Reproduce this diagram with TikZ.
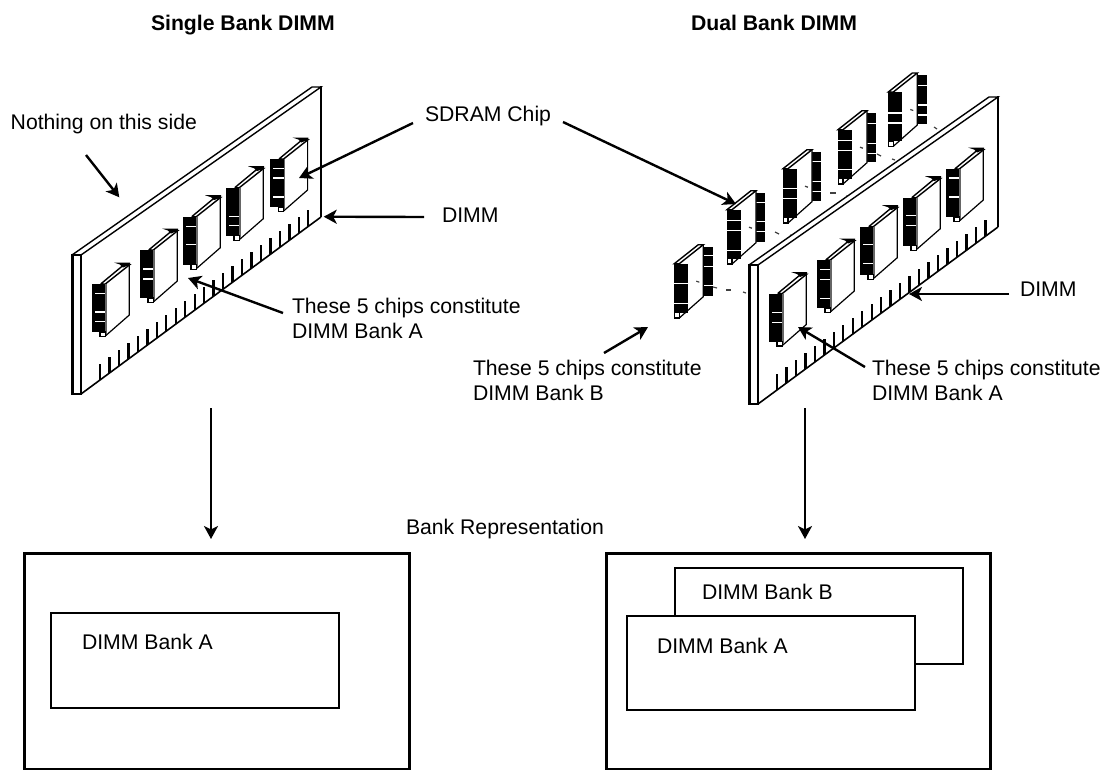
\documentclass[tikz,border=0pt]{standalone}
\usepackage{fontspec}
\setmainfont{Liberation Sans}
\usetikzlibrary{arrows.meta}
\tikzset{
  x=1pt,y=-1pt,
  lbl/.style={anchor=base west,inner sep=0pt,outer sep=0pt,font=\fontsize{21.2}{24.7}\selectfont},
  ttl/.style={lbl,font=\fontsize{21.2}{24.7}\selectfont\bfseries},
  mltl/.style={lbl,align=left},
  callout/.style={line width=2.4pt,-{Stealth[length=13pt,width=14pt,inset=3.5pt]}},
  thick box/.style={draw,fill=white,line width=2.8pt},
  thin box/.style={draw,fill=white,line width=1.9pt},
  bar/.style={line width=2.3pt},
  edge/.style={line width=1.4pt},
  speck/.style={line width=1.2pt,black!75},
}
% board with teeth
\newcommand{\boardshape}[2]{%
\begin{scope}[shift={(#1,#2)}]
  \fill[white] (72,255)--(312,87)--(321,87)--(321,217)--(81,394)--(72,394)--cycle;
  \draw[edge] (72,255)--(312,87)--(321,87)--(81,255);
  \draw[bar] (321,86)--(321,217);
  \draw[line width=1.6pt] (81,394)--(321,217);
  \draw[bar] (72.5,255) rectangle (81,394);
  \foreach \i in {0,...,22}{
    \pgfmathsetmacro{\tx}{100+\i*9.47}
    \pgfmathsetmacro{\ty}{394-(\tx-81)*0.7375}
    \draw[bar] (\tx,\ty)--(\tx,\ty-16);
  }
\end{scope}}
% front chip: origin is the top left of the black block
\newcommand{\frontchip}[3]{%
\begin{scope}[shift={(#1,#2)}]
  \fill[white] (8.7,0)--(31,-19)--(37.3,-19)--(37.3,31)--(13.3,52)--(8.7,52)--cycle;
  \draw[edge] (8.7,0)--(31,-18.5)--(37.3,-19)--(13.3,0)--(8.7,0);
  \draw[line width=1.2pt] (37.3,-19)--(37.3,31)--(13.3,52);
  \draw[line width=1.8pt,black!60] (14,0)--(14,50);
  \fill (0,0) rectangle (13.3,48);
  \fill (22,-21.5) -- (38,-21.5) -- (38,-19.5) -- (31,-16.5) -- (28,-19.5) --cycle;
  \draw[line width=1.2pt,fill=white] (8,48) rectangle (13.3,52.5);
  \foreach \d in {#3}{\draw[white,line width=1.1pt] (3,\d)--(13.3,\d);}
\end{scope}}
% back chip: origin is the top left of the black block
\newcommand{\backchip}[4]{%
\begin{scope}[shift={(#1,#2)}]
  \fill (29.3,-18.7) rectangle (38.3,30);
  \foreach \d in {#4}{\draw[white,line width=1.1pt] (29.3,\d)--(38.3,\d);}
  \fill[white] (0,-2)--(24,-21)--(29,-21)--(29,31)--(5,52.3)--(0,52.3)--cycle;
  \draw[edge] (0,-2)--(24,-21)--(29,-21)--(5,-2)--cycle;
  \draw[line width=1.2pt] (29,-21)--(29,31)--(5,52.3);
  \fill (0,-2) rectangle (13.7,47);
  \draw[line width=1.2pt,fill=white] (0.5,47) rectangle (5,52.3);
  \foreach \d in {#3}{\draw[white,line width=1.1pt] (0,\d)--(13.7,\d);}
  \draw[speck] (22,15.5)--(25,16.5);
\end{scope}}
\begin{document}
\begin{tikzpicture}
\useasboundingbox (0,0) rectangle (1106,769);
% titles
\node[ttl] (titleL) at (151,30) {Single Bank DIMM};
\node[ttl] (titleR) at (691,30) {Dual Bank DIMM};
% left DIMM
\boardshape{0}{0}
\frontchip{92}{284}{9.3,28,37.7}
\frontchip{140}{250}{19,29}
\frontchip{183}{216.7}{10,28}
\frontchip{226}{187.7}{29,38}
\frontchip{270.3}{159}{9.3,19,38}
% right DIMM, rear chips
\backchip{674.3}{265.7}{18,38}{-10,1,20}
\backchip{727}{211.7}{9,19,39}{-9,10,20}
\backchip{783}{170.7}{18,28}{-9,11,21}
\backchip{838}{131.7}{9,19,38}{-8,12,22}
\backchip{888.3}{94}{19,29}{-8.3,11,21}
\foreach \a/\b/\c/\d in {713/287/717/288,726/290/731/290,743/292/746/293,775/232/779/234,790/235/793/236,830/193/836/193,846/196/849/197,877/154/881/156,892/159/895/160,934/127/937/129}
  \draw[speck] (\a,\b)--(\c,\d);
% right DIMM, board and front chips
\boardshape{677}{10}
\frontchip{769}{293.5}{19,29}
\frontchip{817}{260}{9.3,19.3,38.7}
\frontchip{860}{226.7}{18,37}
\frontchip{903}{197.7}{18,28}
\frontchip{946}{169}{9,28}
% labels
\node[lbl] (nothing) at (10.7,129) {Nothing on this side};
\node[lbl] (sdram) at (425,121) {SDRAM Chip};
\node[lbl] (dimmL) at (442,222) {DIMM};
\node[mltl,anchor=north west] (bankAL) at (292,298) {These 5 chips constitute\\DIMM Bank A};
\node[mltl,anchor=north west] (bankB) at (473,360) {These 5 chips constitute\\DIMM Bank B};
\node[mltl,anchor=north west] (bankAR) at (872,360) {These 5 chips constitute\\DIMM Bank A};
\node[lbl] (dimmR) at (1020,296.7) {DIMM};
\node[lbl] (repr) at (406,534) {Bank Representation};
% callout end points
\coordinate (c1a) at (86,155); \coordinate (c1b) at (119.3,197.3);
\coordinate (c2a) at (413,123); \coordinate (c2b) at (299,178);
\coordinate (c3a) at (424,217); \coordinate (c3b) at (323.7,216.7);
\coordinate (c4a) at (283,313); \coordinate (c4b) at (188,278);
\coordinate (c5a) at (563,122); \coordinate (c5b) at (736,204);
\coordinate (c6a) at (604,353); \coordinate (c6b) at (648,327);
\coordinate (c7a) at (1009,294); \coordinate (c7b) at (909,294);
\coordinate (c8a) at (865,367); \coordinate (c8b) at (798,327);
\coordinate (c9a) at (211,408); \coordinate (c9b) at (211,539);
\coordinate (c10a) at (805,408); \coordinate (c10b) at (805,539);
\foreach \n in {1,...,10}{\draw[callout] (c\n a)--(c\n b);}
% bank boxes
\node[thick box,minimum width=385pt,minimum height=216pt,inner sep=0pt,anchor=north west] (outerL) at (23,552) {};
\node[thin box,minimum width=288pt,minimum height=95pt,inner sep=0pt,anchor=north west] (innerL) at (50,612) {};
\node[lbl] (txtL) at (82,649) {DIMM Bank A};
\node[thick box,minimum width=384pt,minimum height=216pt,inner sep=0pt,anchor=north west] (outerR) at (605,552) {};
\node[thin box,minimum width=288pt,minimum height=96pt,inner sep=0pt,anchor=north west] (innerB) at (674,567) {};
\node[lbl] (txtB) at (702,599) {DIMM Bank B};
\node[thin box,minimum width=288pt,minimum height=94pt,inner sep=0pt,anchor=north west] (innerA) at (626,615) {};
\node[lbl] (txtA) at (657,653) {DIMM Bank A};
\end{tikzpicture}
\end{document}
